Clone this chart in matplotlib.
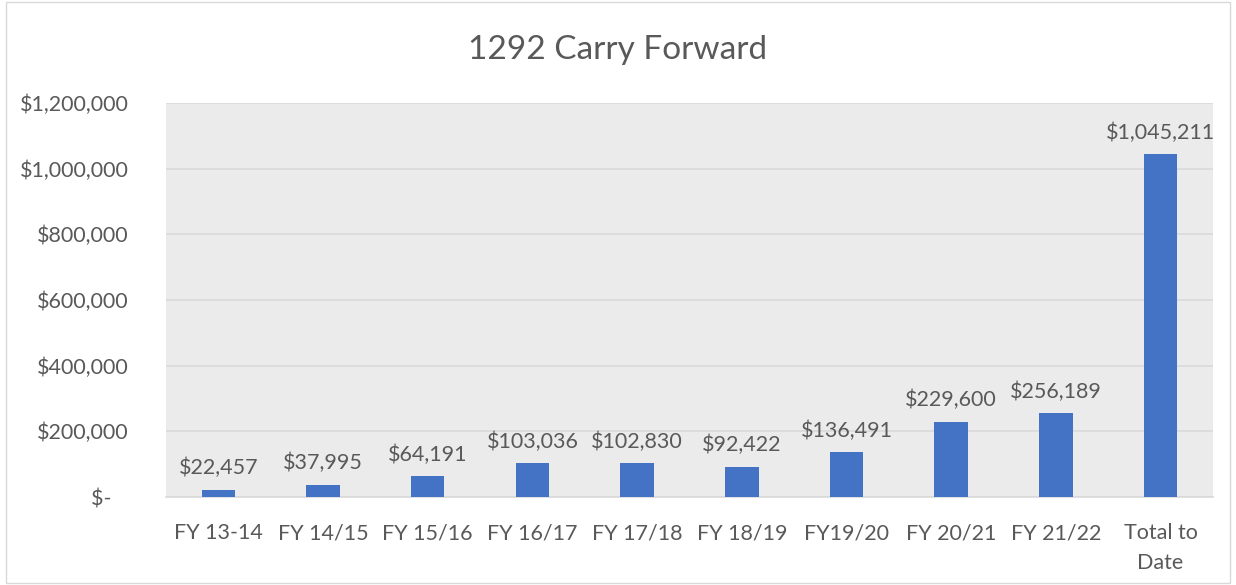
import matplotlib.pyplot as plt
from matplotlib.patches import Rectangle
from matplotlib.ticker import FuncFormatter

# -----------------------------
# Data
# -----------------------------
categories = ["FY 13-14", "FY 14/15", "FY 15/16", "FY 16/17", "FY 17/18",
              "FY 18/19", "FY19/20", "FY 20/21", "FY 21/22", "Total to\nDate"]
amounts = [22457, 37995, 64191, 103036, 102830, 92422, 136491, 229600, 256189, 1045211]
y_ticks = [0, 200000, 400000, 600000, 800000, 1000000, 1200000]

plt.rcParams['font.family'] = ['Lato', 'DejaVu Sans']
text_color = "#595959"
bar_color = "#4472C4"

fig = plt.figure(figsize=(12.36, 5.85), dpi=100)
ax = fig.add_axes([0.1343, 0.1504, 0.847, 0.6735])
ax.set_facecolor("#ebebeb")

x = range(len(categories))
bars = ax.bar(x, amounts, width=0.32, color=bar_color, zorder=3)

for xi, v in zip(x, amounts):
    ax.annotate(f"${v:,}", (xi, v), xytext=(0, 8), textcoords="offset points",
                ha="center", va="bottom", fontsize=15.5, color=text_color)

ax.set_xlim(-0.5, len(categories) - 0.5)
ax.set_ylim(0, 1200000)
ax.set_yticks(y_ticks)


def money(v, pos):
    if v == 0:
        return "$-   "
    return f"${v:,.0f}"


ax.yaxis.set_major_formatter(FuncFormatter(money))
ax.set_xticks(list(x))
ax.set_xticklabels(categories, linespacing=1.6)
ax.tick_params(axis="both", length=0, labelsize=15.5, labelcolor=text_color)
ax.tick_params(axis="y", pad=27)
ax.tick_params(axis="x", pad=19)

ax.grid(axis="y", color="#d9d9d9", linewidth=1.2, zorder=0)
for spine in ["top", "right", "left"]:
    ax.spines[spine].set_visible(False)
ax.spines["bottom"].set_color("#d9d9d9")
ax.spines["bottom"].set_linewidth(1.2)

fig.text(0.5, 0.915, "1292 Carry Forward", ha="center", va="center",
         fontsize=24, color=text_color)

# light border around the chart
fig.patches.append(Rectangle((0.005, 0.003), 0.99, 0.994, transform=fig.transFigure,
                             fill=False, edgecolor="#d9d9d9", linewidth=1))

fig.savefig("out.png", dpi=100)
